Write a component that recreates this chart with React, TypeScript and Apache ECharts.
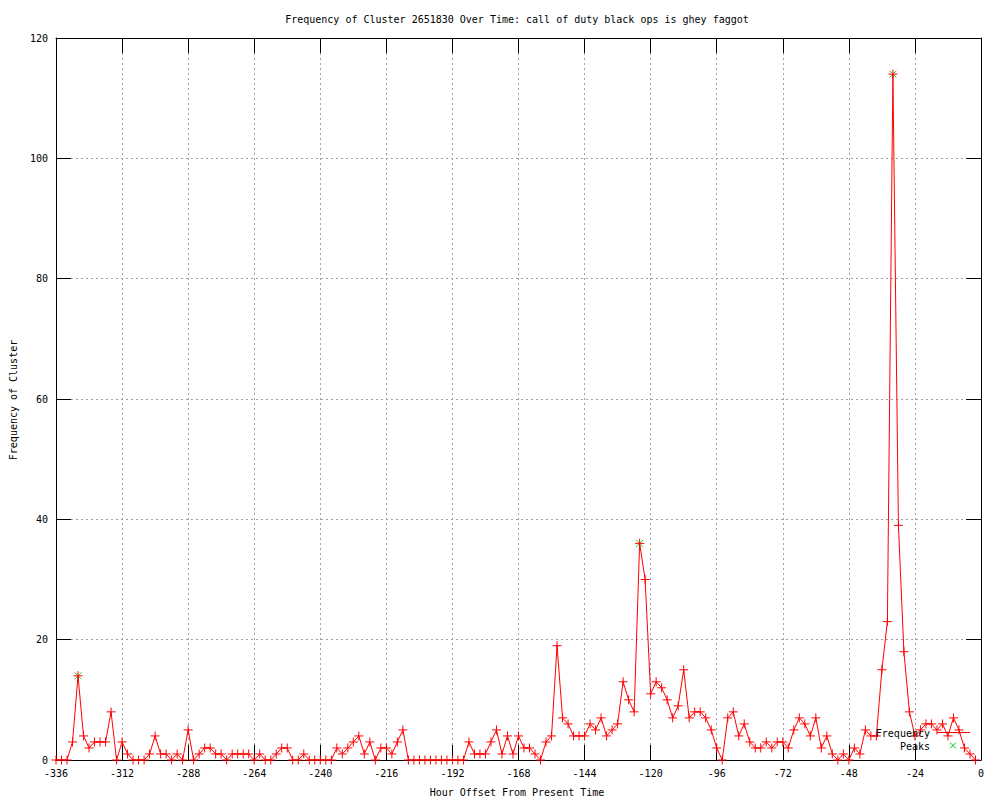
import React, { useEffect, useRef } from "react";
import * as echarts from "echarts";

// Sampling grid of the series (hours from present)
const START_HOUR = -336;
const STEP_HOURS = 2;

// Frequency values, one every 2 hours from -336 to -2
const frequency: number[] = [
  0, 0, 0, 3, 14, 4, 2, 3, 3, 3, 8, 0, 3, 1, 0, 0, 0, 1, 4, 1,
  1, 0, 1, 0, 5, 0, 1, 2, 2, 1, 1, 0, 1, 1, 1, 1, 0, 1, 0, 0,
  1, 2, 2, 0, 0, 1, 0, 0, 0, 0, 0, 2, 1, 2, 3, 4, 1, 3, 0, 2,
  2, 1, 3, 5, 0, 0, 0, 0, 0, 0, 0, 0, 0, 0, 0, 3, 1, 1, 1, 3,
  5, 1, 4, 1, 4, 2, 2, 1, 0, 3, 4, 19, 7, 6, 4, 4, 4, 6, 5, 7,
  4, 5, 6, 13, 10, 8, 36, 30, 11, 13, 12, 10, 7, 9, 15, 7, 8, 8, 7, 5,
  2, 0, 7, 8, 4, 6, 3, 2, 2, 3, 2, 3, 3, 2, 5, 7, 6, 4, 7, 2,
  4, 1, 0, 1, 0, 2, 1, 5, 4, 4, 15, 23, 114, 39, 18, 8, 4, 5, 6, 6,
  5, 6, 4, 7, 5, 2, 1, 0,
];

const peakHours: number[] = [-328, -124, -32];
const peakValues: number[] = [14, 36, 114];

const xTicks = { min: -336, max: 0, interval: 24 };
const yTicks = { min: 0, max: 120, interval: 20 };

const TITLE =
  "Frequency of Cluster 2651830 Over Time: call of duty black ops is ghey faggot";
const X_NAME = "Hour Offset From Present Time";
const Y_NAME = "Frequency of Cluster";

const FONT = "DejaVu Sans Mono";

export default function App() {
  const ref = useRef<HTMLDivElement>(null);

  useEffect(() => {
    if (!ref.current) return;
    const chart = echarts.init(ref.current, undefined, { renderer: "svg" });

    const freqData = frequency.map((v, i) => [START_HOUR + STEP_HOURS * i, v]);
    const peakData = peakHours.map((h, i) => [h, peakValues[i]]);

    const gridLine = {
      show: true,
      lineStyle: { color: "#a0a0a0", width: 1, type: [2, 3] as any },
    };

    const baseX = {
      type: "value" as const,
      min: xTicks.min,
      max: xTicks.max,
      interval: xTicks.interval,
      axisLine: { show: true, onZero: false, lineStyle: { color: "#000", width: 1 } },
      axisTick: { show: true, inside: true, length: 15, lineStyle: { color: "#000" } },
      splitLine: { show: false },
      axisLabel: { show: false },
    };
    const baseY = {
      type: "value" as const,
      min: yTicks.min,
      max: yTicks.max,
      interval: yTicks.interval,
      axisLine: { show: true, onZero: false, lineStyle: { color: "#000", width: 1 } },
      axisTick: { show: true, inside: true, length: 15, lineStyle: { color: "#000" } },
      splitLine: { show: false },
      axisLabel: { show: false },
    };

    chart.setOption({
      animation: false,
      backgroundColor: "#fff",
      grid: { left: 56, top: 38, width: 925, height: 722, containLabel: false },
      xAxis: [
        {
          ...baseX,
          position: "bottom",
          splitLine: gridLine,
          axisLabel: {
            show: true,
            color: "#000",
            fontFamily: FONT,
            fontSize: 10,
            margin: 8,
          },
        },
        { ...baseX, position: "top" },
      ],
      yAxis: [
        {
          ...baseY,
          position: "left",
          splitLine: gridLine,
          axisLabel: {
            show: true,
            color: "#000",
            fontFamily: FONT,
            fontSize: 10,
            margin: 8,
          },
        },
        { ...baseY, position: "right" },
      ],
      series: [
        {
          name: "Peaks",
          type: "scatter",
          data: peakData,
          xAxisIndex: 0,
          yAxisIndex: 0,
          symbol: "path://M0,0L10,10M0,10L10,0",
          symbolSize: 7,
          itemStyle: { color: "#00c000", borderColor: "#00c000", borderWidth: 1 },
          z: 1,
        },
        {
          name: "Frequency",
          type: "line",
          data: freqData,
          xAxisIndex: 0,
          yAxisIndex: 0,
          symbol: "path://M0,5L10,5M5,0L5,10",
          symbolSize: 9,
          showAllSymbol: true,
          lineStyle: { color: "#ff0000", width: 1 },
          itemStyle: { color: "#ff0000", borderColor: "#ff0000", borderWidth: 1 },
          z: 2,
        },
      ],
      graphic: [
        {
          type: "text",
          x: 517,
          y: 19,
          style: {
            text: TITLE,
            fontFamily: FONT,
            fontSize: 10,
            fill: "#000",
            align: "center",
            verticalAlign: "middle",
          },
        },
        {
          type: "text",
          x: 517,
          y: 792,
          style: {
            text: X_NAME,
            fontFamily: FONT,
            fontSize: 10,
            fill: "#000",
            align: "center",
            verticalAlign: "middle",
          },
        },
        {
          type: "text",
          x: 13,
          y: 400,
          rotation: Math.PI / 2,
          style: {
            text: Y_NAME,
            fontFamily: FONT,
            fontSize: 10,
            fill: "#000",
            align: "center",
            verticalAlign: "middle",
          },
        },
        {
          type: "text",
          x: 930,
          y: 733,
          z: 10,
          style: {
            text: "Frequency",
            fontFamily: FONT,
            fontSize: 10,
            fill: "#000",
            align: "right",
            verticalAlign: "middle",
          },
        },
        {
          type: "line",
          z: 10,
          shape: { x1: 937, y1: 732.5, x2: 970, y2: 732.5 },
          style: { stroke: "#ff0000", lineWidth: 1 },
        },
        {
          type: "text",
          x: 930,
          y: 746,
          z: 10,
          style: {
            text: "Peaks",
            fontFamily: FONT,
            fontSize: 10,
            fill: "#000",
            align: "right",
            verticalAlign: "middle",
          },
        },
        {
          type: "line",
          z: 10,
          shape: { x1: 950, y1: 742.5, x2: 956, y2: 748.5 },
          style: { stroke: "#00c000", lineWidth: 1 },
        },
        {
          type: "line",
          z: 10,
          shape: { x1: 950, y1: 748.5, x2: 956, y2: 742.5 },
          style: { stroke: "#00c000", lineWidth: 1 },
        },
      ],
    });

    return () => chart.dispose();
  }, []);

  return <div ref={ref} style={{ width: 1000, height: 800, position: "absolute", left: 0, top: 0 }} />;
}
